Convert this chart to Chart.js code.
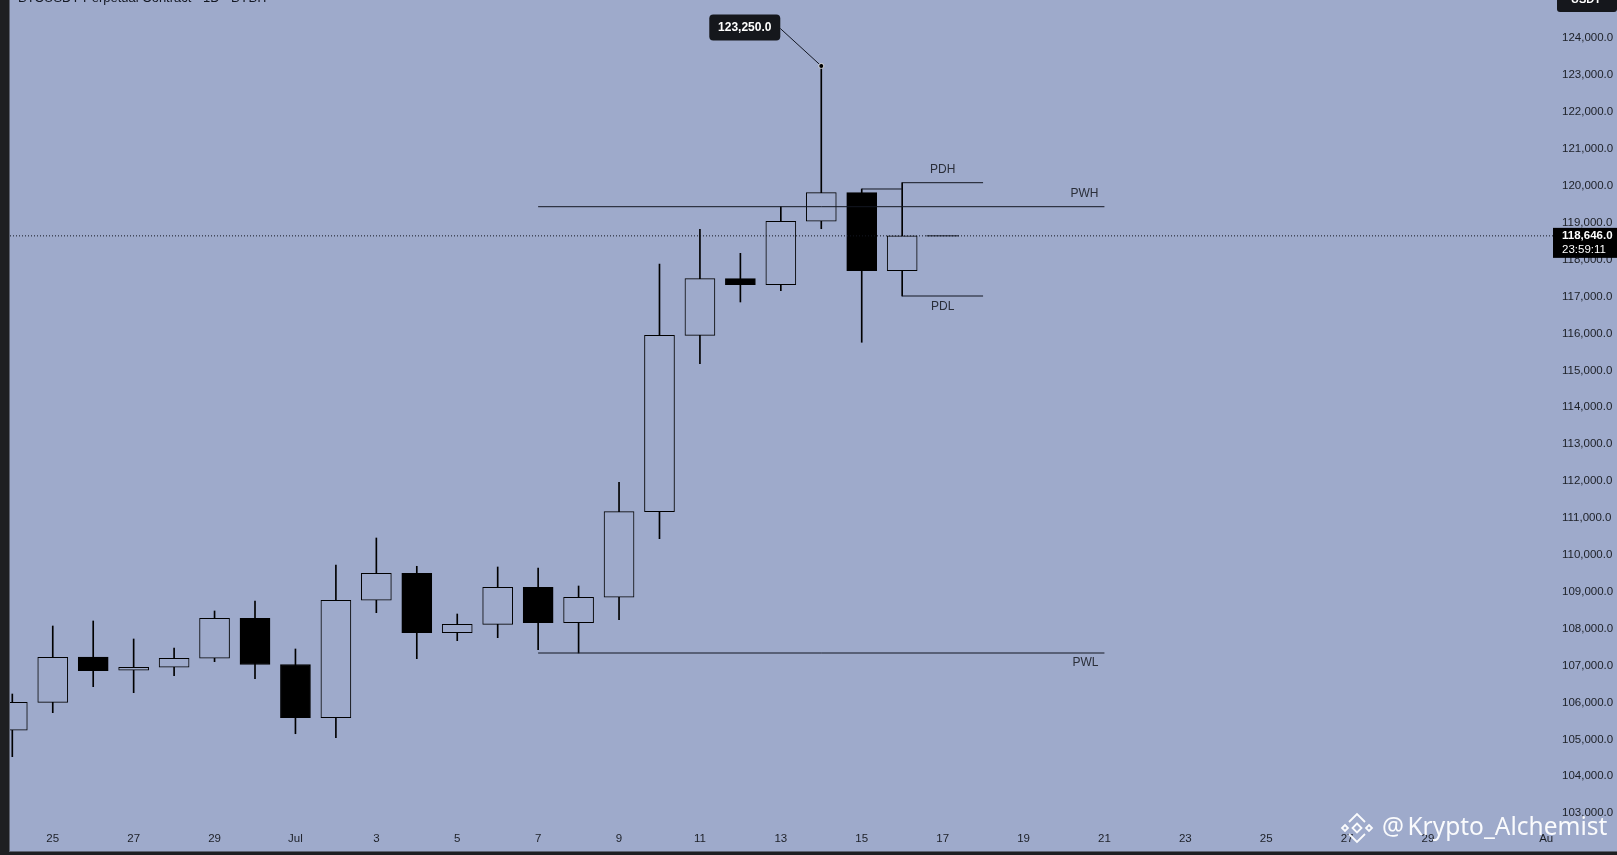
<!DOCTYPE html>
<html>
<head>
<meta charset="utf-8">
<title>BTCUSDT 1D</title>
<script src="https://cdn.jsdelivr.net/npm/chart.js@4.4.1/dist/chart.umd.min.js"></script>
<style>
  html, body { margin: 0; padding: 0; background: #1e1f22; overflow: hidden; }
  #wrap {
    position: absolute; left: 9px; top: 0;
    width: 1607px; height: 851px;
    background: #9eaacb;
    border-left: 1px solid #5e6372;
    border-bottom: 1px solid #5e6372;
  }
  canvas { display: block; }
</style>
</head>
<body>
<div id="wrap"><canvas id="chart" width="1607" height="851"></canvas></div>
<script>
// Daily BTCUSDT candles, Jun 24 -> Jul 16, with weekly / daily high-low levels.

const BG = "#9eaacb";
const INK = "#131722";
const FONT = "'Liberation Sans', Arial, sans-serif";

const days = ["Jun 24", "Jun 25", "Jun 26", "Jun 27", "Jun 28", "Jun 29", "Jun 30",
  "Jul 1", "Jul 2", "Jul 3", "Jul 4", "Jul 5", "Jul 6", "Jul 7", "Jul 8", "Jul 9",
  "Jul 10", "Jul 11", "Jul 12", "Jul 13", "Jul 14", "Jul 15", "Jul 16"];
const opens  = [105247, 106005, 107233, 106873, 106954, 107198, 108282, 107030, 105588, 108770, 109501, 107892,
  108119, 109122, 108163, 108851, 111171, 115951, 117485, 117322, 119041, 119816, 117702];
const highs  = [106230, 108073, 108209, 107721, 107477, 108480, 108751, 107450, 109726, 110458, 109691, 108398,
  109672, 109645, 109157, 111967, 117883, 118824, 118173, 119436, 123250, 119916, 120087];
const lows   = [104531, 105724, 106428, 106266, 106726, 107106, 106645, 105154, 105046, 108434, 107187, 107675,
  107756, 107431, 107341, 108244, 110439, 115182, 116854, 117160, 118840, 115762, 117016];
const closes = [106005, 107225, 106862, 106954, 107198, 108282, 107030, 105588, 108770, 109501, 107892, 108119,
  109122, 108163, 108851, 111171, 115951, 117485, 117322, 119041, 119816, 117702, 118646];

// x ticks are day offsets from Jun 24
const xTickDays = [1, 3, 5, 7, 9, 11, 13, 15, 17, 19, 21, 23, 25, 27, 29, 31, 33, 35, 38];
const xTickLabels = ["25", "27", "29", "Jul", "3", "5", "7", "9", "11", "13", "15", "17", "19", "21",
  "23", "25", "27", "29", "Aug"];
const yTickValues = [103000, 104000, 105000, 106000, 107000, 108000, 109000, 110000, 111000, 112000, 113000,
  114000, 115000, 116000, 117000, 118000, 119000, 120000, 121000, 122000, 123000, 124000];

// levels drawn by the indicator
const pwh = 119436;
const pwl = 107341;
const pdh = 120087;
const pdl = 117016;
const pdhPrev = 119916;
const weekFrom = 13, weekTo = 27;   // Jul 7 -> Jul 21
const dayFrom = 22, dayTo = 24;     // Jul 16 -> Jul 18
const lastPrice = 118646;
const lastTime = "23:59:11";
const athDay = 20;
const athPrice = 123250;

const X_MIN = -0.057, X_MAX = 38.09;
const Y_MIN = 102680, Y_MAX = 125038;

function seg(x0, x1, v) {
  return [{ x: x0, y: v }, { x: x1, y: v }];
}

function fmt(v) {
  return v.toLocaleString("en-US", { minimumFractionDigits: 1, maximumFractionDigits: 1 });
}

// no label overhang padding: the plot must fill the pane edge to edge
function noPadding(axis) {
  axis.paddingTop = 0;
  axis.paddingBottom = 0;
  axis.paddingLeft = 0;
  axis.paddingRight = 0;
}

const lineStyle = { type: "line", borderColor: INK, borderWidth: 1, pointRadius: 0, order: 0 };

// Overlays: labels, callout, price tag, watermark.
const overlay = {
  id: "overlay",
  afterDatasetsDraw(chart) {
    // price-scale pane hides whatever spills past the plot (the "Aug" label)
    const { ctx, chartArea } = chart;
    ctx.save();
    ctx.fillStyle = BG;
    ctx.fillRect(chartArea.right, chartArea.bottom, chart.width - chartArea.right, chart.height - chartArea.bottom);
    ctx.restore();
  },
  afterDraw(chart) {
    const { ctx, chartArea } = chart;
    const x = chart.scales.x, y = chart.scales.y;
    ctx.save();

    // level labels
    ctx.fillStyle = "#2a2e39";
    ctx.font = "12px " + FONT;
    ctx.textBaseline = "middle";
    ctx.textAlign = "center";
    const mid = x.getPixelForValue((dayFrom + dayTo) / 2);
    ctx.fillText("PDH", mid, y.getPixelForValue(pdh) - 13);
    ctx.fillText("PDL", mid, y.getPixelForValue(pdl) + 11);
    ctx.textAlign = "right";
    const wEnd = x.getPixelForValue(weekTo) - 6;
    ctx.fillText("PWH", wEnd, y.getPixelForValue(pwh) - 13);
    ctx.fillText("PWL", wEnd, y.getPixelForValue(pwl) + 10);

    // high callout
    const px = x.getPixelForValue(athDay), py = y.getPixelForValue(athPrice);
    ctx.strokeStyle = INK;
    ctx.lineWidth = 1;
    ctx.beginPath();
    ctx.moveTo(px - 41, py - 37.5);
    ctx.lineTo(px, py);
    ctx.stroke();
    ctx.fillStyle = "#15171c";
    ctx.beginPath();
    ctx.roundRect(px - 112, py - 51.5, 71, 26, 4);
    ctx.fill();
    ctx.fillStyle = "#ffffff";
    ctx.font = "bold 12px " + FONT;
    ctx.textAlign = "center";
    ctx.fillText(fmt(athPrice), px - 76.5, py - 38);
    ctx.beginPath();
    ctx.arc(px, py, 2.5, 0, Math.PI * 2);
    ctx.fillStyle = "#000";
    ctx.fill();
    ctx.strokeStyle = "rgba(255,255,255,0.75)";
    ctx.stroke();

    // last price tag
    const ly = y.getPixelForValue(lastPrice);
    ctx.fillStyle = "#000";
    ctx.fillRect(chartArea.right, ly - 8, chart.width - chartArea.right, 30);
    ctx.fillStyle = "#fff";
    ctx.textAlign = "left";
    ctx.font = "bold 11.5px " + FONT;
    ctx.fillText(fmt(lastPrice), chartArea.right + 9, ly);
    ctx.font = "11.5px " + FONT;
    ctx.fillText(lastTime, chartArea.right + 9, ly + 14);

    // currency badge and symbol title, both cut by the top edge
    ctx.fillStyle = "#15171c";
    ctx.beginPath();
    ctx.roundRect(chartArea.right + 4, -8, 60, 20, 3);
    ctx.fill();
    ctx.fillStyle = "#fff";
    ctx.textAlign = "center";
    ctx.textBaseline = "alphabetic";
    ctx.font = "bold 11px " + FONT;
    ctx.fillText("USDT", chartArea.right + 33, 3);
    ctx.fillStyle = INK;
    ctx.textAlign = "left";
    ctx.font = "13px " + FONT;
    ctx.fillText("BTCUSDT Perpetual Contract · 1D · BYBIT", 8, 1.5);

    // watermark
    const cx = 1347, cy = 828;
    ctx.strokeStyle = "rgba(255,255,255,0.95)";
    ctx.fillStyle = "rgba(255,255,255,0.95)";
    ctx.lineWidth = 1.8;
    const diamond = (dx, dy, r) => {
      ctx.beginPath();
      ctx.moveTo(cx + dx, cy + dy - r);
      ctx.lineTo(cx + dx + r, cy + dy);
      ctx.lineTo(cx + dx, cy + dy + r);
      ctx.lineTo(cx + dx - r, cy + dy);
      ctx.closePath();
      ctx.stroke();
    };
    diamond(0, 0, 4.5);
    diamond(-12, 0, 3);
    diamond(12, 0, 3);
    ctx.beginPath();
    ctx.moveTo(cx - 8, cy - 6); ctx.lineTo(cx, cy - 14); ctx.lineTo(cx + 8, cy - 6);
    ctx.moveTo(cx - 8, cy + 6); ctx.lineTo(cx, cy + 14); ctx.lineTo(cx + 8, cy + 6);
    ctx.stroke();
    ctx.textBaseline = "middle";
    ctx.font = "24.5px 'Noto Sans', 'Open Sans', sans-serif";
    ctx.fillText("@", 1372, cy);
    ctx.fillText("Krypto_Alchemist", 1372 + ctx.measureText("@ ").width - 3, cy);

    ctx.restore();
  }
};

new Chart(document.getElementById("chart"), {
  type: "bar",
  data: {
    datasets: [
      { ...lineStyle, data: seg(weekFrom, weekTo, pwh) },
      { ...lineStyle, data: seg(weekFrom, weekTo, pwl) },
      { ...lineStyle, data: seg(dayFrom, dayTo, pdh) },
      { ...lineStyle, data: seg(dayFrom, dayTo, pdl) },
      { ...lineStyle, data: seg(dayFrom - 1, dayFrom, pdhPrev) },
      { ...lineStyle, data: seg(X_MIN, X_MAX, lastPrice), borderDash: [1, 2] },
      { ...lineStyle, data: seg(dayFrom + 0.6, dayFrom + 1.4, lastPrice) },
      {
        label: "body",
        order: 1,
        grouped: false,
        barThickness: 30,
        borderWidth: 1,
        borderSkipped: false,
        borderColor: "#000",
        backgroundColor: days.map((_, i) => (closes[i] >= opens[i] ? BG : "#000")),
        data: days.map((_, i) => ({ x: i, y: [opens[i], closes[i]] }))
      },
      {
        label: "wick",
        order: 2,
        grouped: false,
        barThickness: 1,
        borderWidth: 0,
        backgroundColor: "#000",
        data: days.map((_, i) => ({ x: i, y: [lows[i], highs[i]] }))
      }
    ]
  },
  options: {
    responsive: false,
    devicePixelRatio: 1,
    animation: false,
    layout: { padding: 0 },
    plugins: { legend: { display: false }, tooltip: { enabled: false } },
    scales: {
      x: {
        type: "linear",
        min: X_MIN,
        max: X_MAX,
        offset: false,
        bounds: "data",
        grid: { display: false, drawTicks: false },
        border: { display: false },
        afterBuildTicks: (axis) => { axis.ticks = xTickDays.map((v) => ({ value: v })); },
        afterFit: (axis) => { axis.height = 26; noPadding(axis); },
        ticks: {
          autoSkip: false,
          maxRotation: 0,
          padding: 7,
          color: "#1c1f26",
          font: { size: 11.5, family: FONT },
          callback: (v, i) => xTickLabels[i]
        }
      },
      y: {
        type: "linear",
        position: "right",
        min: Y_MIN,
        max: Y_MAX,
        bounds: "data",
        grid: { display: false, drawTicks: false },
        border: { display: false },
        afterBuildTicks: (axis) => { axis.ticks = yTickValues.map((v) => ({ value: v })); },
        afterFit: (axis) => { axis.width = 64; noPadding(axis); },
        ticks: {
          autoSkip: false,
          padding: 9,
          color: "#1c1f26",
          font: { size: 11.5, family: FONT },
          callback: (v) => fmt(v)
        }
      }
    }
  },
  plugins: [overlay]
});
</script>
</body>
</html>
